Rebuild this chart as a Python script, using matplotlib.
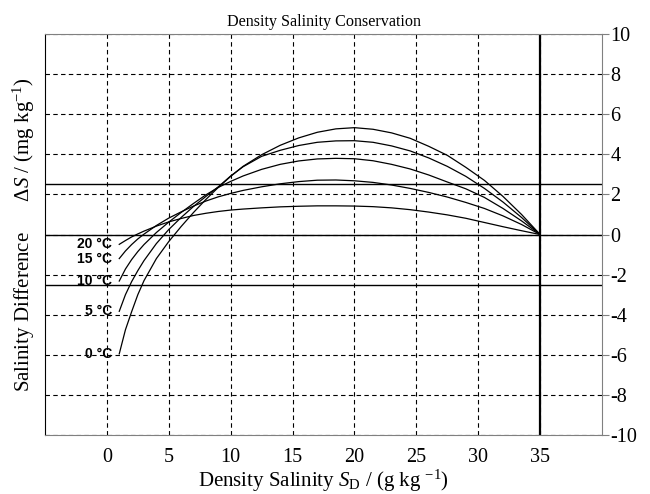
import numpy as np
import matplotlib.pyplot as plt

plt.rcParams['font.family'] = 'Liberation Serif'
plt.rcParams['mathtext.fontset'] = 'custom'
plt.rcParams['mathtext.rm'] = 'Liberation Serif'
plt.rcParams['mathtext.it'] = 'Liberation Serif:italic'
plt.rcParams['axes.unicode_minus'] = False

# salinity points along each curve (g/kg)
sal = [1, 1.5, 2, 2.5, 3, 4, 5, 6, 7, 8, 9, 10, 11, 12.5, 14, 15.5, 17, 18.5,
       20, 21.5, 23, 24.5, 26, 27.5, 29, 30.5, 32, 33.5, 35]

# salinity difference (mg/kg) for each temperature
ds_0 = [-5.95, -4.75, -3.85, -3.0, -2.3, -1.2, -0.35, 0.4, 1.1, 1.75, 2.35, 2.9, 3.4, 3.98, 4.45, 4.82, 5.1, 5.27,
        5.33, 5.25, 5.07, 4.8, 4.4, 3.95, 3.35, 2.7, 1.9, 1.0, 0]
ds_5 = [-3.83, -3.0, -2.35, -1.8, -1.3, -0.45, 0.25, 0.85, 1.4, 1.9, 2.38, 2.92, 3.38, 3.9, 4.2, 4.44, 4.6, 4.67,
        4.68, 4.6, 4.42, 4.17, 3.82, 3.4, 2.9, 2.3, 1.62, 0.85, 0]
ds_10 = [-2.32, -1.72, -1.25, -0.85, -0.5, 0.1, 0.62, 1.1, 1.55, 1.98, 2.35, 2.65, 2.92, 3.25, 3.5, 3.67, 3.77, 3.8,
         3.78, 3.68, 3.5, 3.27, 2.97, 2.62, 2.28, 1.85, 1.3, 0.68, 0]
ds_15 = [-1.2, -0.82, -0.5, -0.22, 0.02, 0.45, 0.82, 1.13, 1.42, 1.67, 1.88, 2.05, 2.2, 2.38, 2.53, 2.64, 2.71, 2.72,
         2.68, 2.6, 2.47, 2.3, 2.1, 1.87, 1.6, 1.3, 0.93, 0.5, 0]
ds_20 = [-0.49, -0.3, -0.12, 0.03, 0.17, 0.42, 0.63, 0.8, 0.95, 1.06, 1.15, 1.22, 1.27, 1.33, 1.38, 1.41, 1.43, 1.43,
         1.42, 1.39, 1.33, 1.24, 1.12, 0.98, 0.81, 0.6, 0.39, 0.19, 0]

curves = [(ds_0, '0 °C'), (ds_5, '5 °C'), (ds_10, '10 °C'), (ds_15, '15 °C'), (ds_20, '20 °C')]

fig = plt.figure(figsize=(6.5, 4.94), dpi=100)
ax = fig.add_axes([0.0692, 0.1194, 0.857, 0.8117])

ax.set_xlim(-5, 40)
ax.set_ylim(-10, 10)
ax.set_xticks(np.arange(0, 36, 5))
ax.set_yticks(np.arange(-10, 11, 2))

ax.grid(True, color='black', linestyle=(0, (4, 3)), linewidth=0.8)
ax.set_axisbelow(True)

ax.yaxis.tick_right()
ax.tick_params(axis='y', direction='out', length=5, width=0.8, color='#808080', labelsize=14.5, pad=1)
ax.tick_params(axis='x', length=0, labelsize=14.5, pad=9)

for side in ['top', 'bottom', 'right']:
    ax.spines[side].set_color('#808080')
ax.spines['left'].set_color('black')

# reference lines
for yv in [0, 2.5, -2.5]:
    ax.axhline(yv, color='black', linewidth=1.0)
ax.axvline(35, color='black', linewidth=1.6)

for ds, lab in curves:
    ax.plot(sal, ds, color='black', linewidth=0.9)
    ax.text(0.4, ds[0], lab, ha='right', va='center', fontsize=10,
            fontweight='bold', family='Liberation Sans')

ax.set_title('Density Salinity Conservation', fontsize=11.6, pad=6)
ax.set_xlabel(r'Density Salinity $\mathit{S}_{\mathrm{D}}$ / (g kg $^{-1}$)', fontsize=15, labelpad=1)
ax.set_ylabel(r'Salinity Difference      $\Delta\mathit{S}$ / (mg kg$^{-1}$)', fontsize=15, labelpad=6)
ax.yaxis.set_label_position('left')

fig.savefig('out.png', dpi=100)
